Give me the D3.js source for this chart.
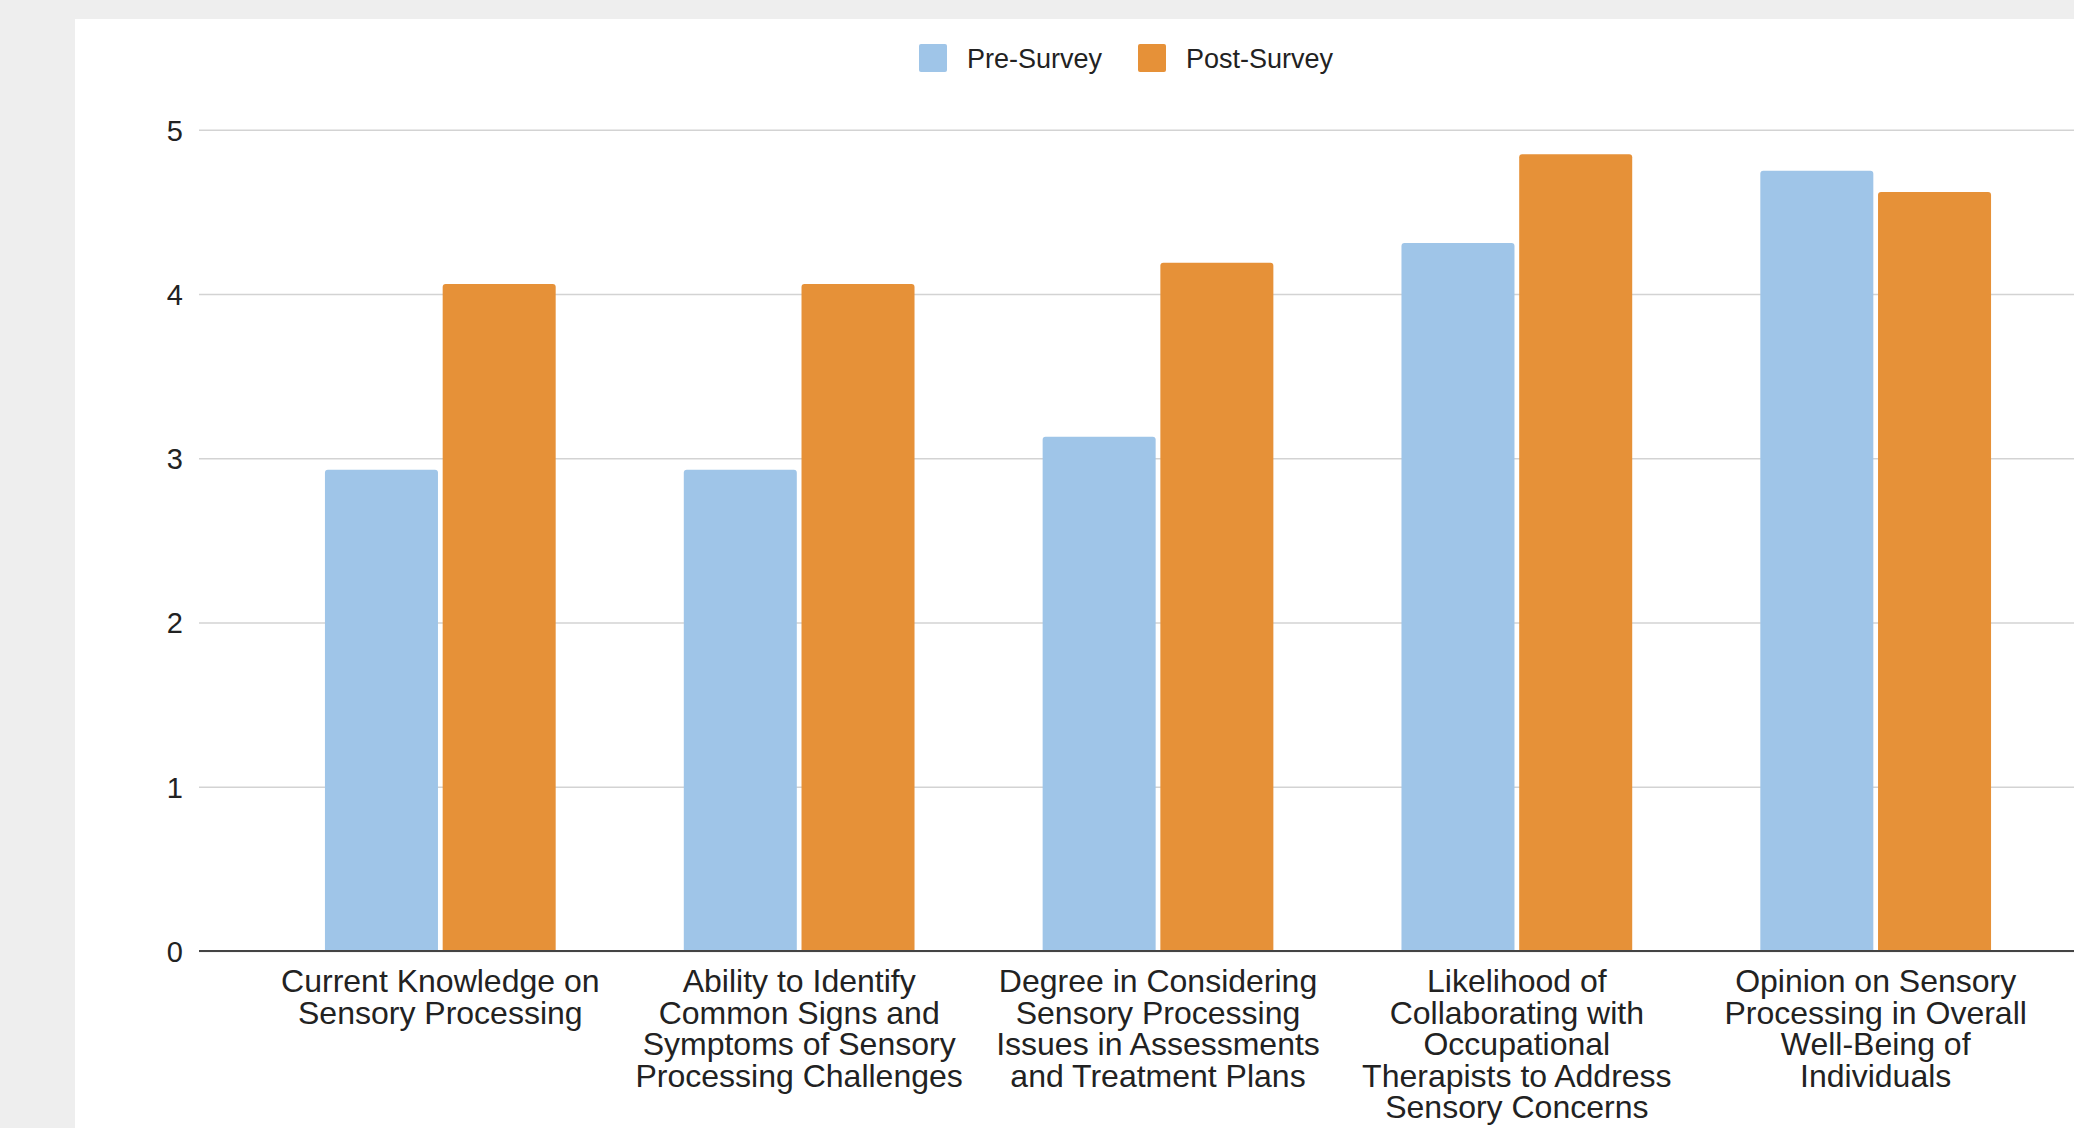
<!DOCTYPE html>
<html lang="en">
<head>
  <meta charset="UTF-8">
  <title>Pre- vs Post-Survey</title>
  <script src="https://d3js.org/d3.v7.min.js"></script>
  <style>
    html, body { margin: 0; padding: 0; background: #eeeeee; }
    svg { display: block; font-family: "Liberation Sans", Arial, sans-serif; }
    .grid line { stroke: #d3d3d3; stroke-width: 1.4px; }
    .grid text { font-size: 29px; fill: #222; }
    .cat-label { font-size: 32px; fill: #222; }
    .legend text { font-size: 27px; fill: #222; }
  </style>
</head>
<body>
<svg id="chart" width="2074" height="1128"></svg>

<script>
// data
const categories = [
  "Current Knowledge on Sensory Processing",
  "Ability to Identify Common Signs and Symptoms of Sensory Processing Challenges",
  "Degree in Considering Sensory Processing Issues in Assessments and Treatment Plans",
  "Likelihood of Collaborating with Occupational Therapists to Address Sensory Concerns",
  "Opinion on Sensory Processing in Overall Well-Being of Individuals"
];
// how the labels wrap under the axis
const categoryLines = [
  ["Current Knowledge on", "Sensory Processing"],
  ["Ability to Identify", "Common Signs and", "Symptoms of Sensory", "Processing Challenges"],
  ["Degree in Considering", "Sensory Processing", "Issues in Assessments", "and Treatment Plans"],
  ["Likelihood of", "Collaborating with", "Occupational", "Therapists to Address", "Sensory Concerns"],
  ["Opinion on Sensory", "Processing in Overall", "Well-Being of", "Individuals"]
];
const seriesNames = ["Pre-Survey", "Post-Survey"];
const preSurvey  = [2.93, 2.93, 3.13, 4.31, 4.75];
const postSurvey = [4.06, 4.06, 4.19, 4.85, 4.62];
const yTicks = [0, 1, 2, 3, 4, 5];

const colors = {"Pre-Survey": "#9fc5e8", "Post-Survey": "#e69138"};

const svg = d3.select("#chart");

// white chart panel (page is cropped on the right and bottom)
svg.append("rect")
  .attr("x", 75).attr("y", 19)
  .attr("width", 2074).attr("height", 1128)
  .attr("fill", "#ffffff");

const plotLeft = 199, plotRight = 2117;
const y = d3.scaleLinear().domain([0, 5]).range([951, 129.7]);

const x0 = d3.scaleBand()
  .domain(categories)
  .range([plotLeft, plotRight])
  .paddingInner(0.357)
  .paddingOuter(0.351);

const x1 = d3.scaleBand()
  .domain(seriesNames)
  .range([0, x0.bandwidth()])
  .paddingInner(0.04);

// gridlines + tick labels
const yAxis = d3.axisLeft(y)
  .tickValues(yTicks)
  .tickSize(-(plotRight - plotLeft))
  .tickPadding(16)
  .tickFormat(d3.format("d"));

svg.append("g")
  .attr("class", "grid")
  .attr("transform", `translate(${plotLeft},0)`)
  .call(yAxis)
  .call(g => g.select(".domain").remove())
  .call(g => g.selectAll(".tick text").attr("dy", "0.36em"));

// bars, rounded on top only
function barPath(x, yTop, w, yBase, r) {
  return `M${x},${yBase} V${yTop + r} Q${x},${yTop} ${x + r},${yTop}` +
         ` H${x + w - r} Q${x + w},${yTop} ${x + w},${yTop + r} V${yBase} Z`;
}

const rows = categories.map((c, i) => ({
  cat: c,
  values: [
    {series: "Pre-Survey", value: preSurvey[i]},
    {series: "Post-Survey", value: postSurvey[i]}
  ]
}));

svg.append("g")
  .selectAll("g")
  .data(rows)
  .join("g")
  .attr("transform", d => `translate(${x0(d.cat)},0)`)
  .selectAll("path")
  .data(d => d.values)
  .join("path")
  .attr("d", d => barPath(x1(d.series), y(d.value), x1.bandwidth(), y(0), 3))
  .attr("fill", d => colors[d.series]);

// baseline
svg.append("line")
  .attr("x1", plotLeft).attr("x2", plotRight)
  .attr("y1", y(0)).attr("y2", y(0))
  .attr("stroke", "#444")
  .attr("stroke-width", 2);

// category labels
const labels = svg.append("g")
  .selectAll("text")
  .data(categories)
  .join("text")
  .attr("class", "cat-label")
  .attr("text-anchor", "middle")
  .attr("x", d => x0(d) + x0.bandwidth() / 2)
  .attr("y", y(0) + 41);

labels.each(function(d, i) {
  const t = d3.select(this);
  categoryLines[i].forEach((line, k) => {
    t.append("tspan")
      .attr("x", x0(d) + x0.bandwidth() / 2)
      .attr("dy", k === 0 ? 0 : 31.5)
      .text(line);
  });
});

// legend
const legendX = [919, 1138];
const legend = svg.append("g").attr("class", "legend");
const item = legend.selectAll("g")
  .data(seriesNames)
  .join("g")
  .attr("transform", (d, i) => `translate(${legendX[i]},44)`);

item.append("rect")
  .attr("width", 28).attr("height", 28)
  .attr("rx", 2)
  .attr("fill", d => colors[d]);

item.append("text")
  .attr("x", 48)
  .attr("y", 14)
  .attr("dy", "0.36em")
  .text(d => d);
</script>
</body>
</html>
